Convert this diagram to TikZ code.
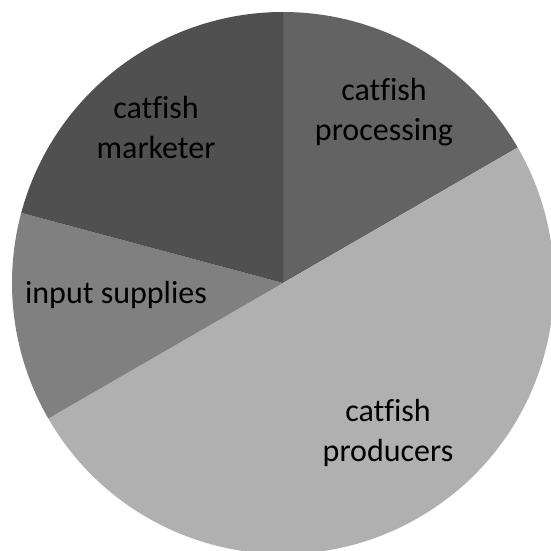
\documentclass[tikz,border=0pt]{standalone}
\usepackage{fontspec}
\setmainfont[Ligatures=CommonOff]{Carlito}
\usetikzlibrary{positioning}

\begin{document}
\begin{tikzpicture}[x=1pt,y=1pt,
  every node/.style={font=\fontsize{32}{40}\selectfont,align=center,text=black}]
\useasboundingbox (0,0) rectangle (551,550);
\coordinate (centre) at (283,267);
% slices: start angle / end angle / grey
\foreach \a/\b/\g in {30/90/636363,-150/30/B0B0B0,165/210/808080,90/165/505050}{
  \definecolor{slice}{HTML}{\g}
  \fill[slice] (centre) -- ++(\a:271) arc[start angle=\a,end angle=\b,radius=271] -- cycle;
}
\node (proc) at (384,438) {catfish\\processing};
\node (mark) at (156,422) {catfish\\marketer};
\node (input) at (116,255) {input supplies};
\node (prod) at (388,117) {catfish\\producers};
\end{tikzpicture}
\end{document}
